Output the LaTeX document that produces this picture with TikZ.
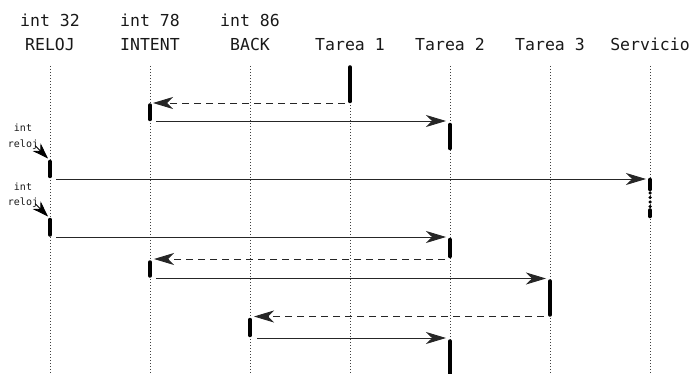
\documentclass[tikz,border=0pt]{standalone}
\usepackage{fontspec}
\setmonofont{DejaVu Sans Mono}
\usetikzlibrary{arrows.meta}
\begin{document}
\begin{tikzpicture}[x=1pt,y=-1pt,
  head/.style={font=\ttfamily\fontsize{16.5}{18}\selectfont, text=black!90, inner sep=0pt, anchor=base},
  note/.style={font=\ttfamily\fontsize{10}{11}\selectfont, text=black!90, inner sep=0pt, anchor=base},
  lifeline/.style={draw=black!75, line width=0.7pt, dash pattern=on 0.8pt off 2.2pt},
  actbar/.style={draw=black, line width=3.5pt, line cap=round},
  call/.style={draw=black!85, line width=0.9pt, -{Stealth[length=20pt,width=12pt,inset=6pt]}},
  reply/.style={call, dash pattern=on 7pt off 5pt},
  tick/.style={draw=black, line width=0.9pt, -{Stealth[length=16pt,width=11pt,inset=5pt]}}
]
\useasboundingbox (0,0) rectangle (693,374);

% --- participant headers ---
\node[head] (p1) at (50,27) {int 32};
\node[head] (p2) at (150,27) {int 78};
\node[head] (p3) at (250,27) {int 86};
\node[head] (h1) at (50,51) {RELOJ};
\node[head] (h2) at (150,51) {INTENT};
\node[head] (h3) at (250,51) {BACK};
\node[head] (h4) at (350,51) {Tarea 1};
\node[head] (h5) at (450,51) {Tarea 2};
\node[head] (h6) at (550,51) {Tarea 3};
\node[head] (h7) at (650,51) {Servicio};

% --- lifelines ---
\coordinate (top) at (0,66);
\coordinate (bot) at (0,374);
\foreach \h in {h1,h2,h3,h4,h5,h6,h7}
  \draw[lifeline] (\h |- top) -- (\h |- bot);

% --- activation bars ---
\coordinate (a1s) at (350,67);  \coordinate (a1e) at (350,101.5);
\coordinate (a2s) at (150,105); \coordinate (a2e) at (150,119.5);
\coordinate (a3s) at (450,124.5); \coordinate (a3e) at (450,148.5);
\coordinate (a4s) at (50,161.5); \coordinate (a4e) at (50,176.5);
\coordinate (a5s) at (650,179.5); \coordinate (a5e) at (650,216.5);
\coordinate (a6s) at (50,219.5); \coordinate (a6e) at (50,235);
\coordinate (a7s) at (450,239.5); \coordinate (a7e) at (450,256.5);
\coordinate (a8s) at (150,262); \coordinate (a8e) at (150,276);
\coordinate (a9s) at (550,281); \coordinate (a9e) at (550,315);
\coordinate (a10s) at (250,319.5); \coordinate (a10e) at (250,335.5);
\coordinate (a11s) at (450,341); \coordinate (a11e) at (450,378);

\draw[actbar] (a1s) -- (a1e);
\draw[actbar] (a2s) -- (a2e);
\draw[actbar] (a3s) -- (a3e);
\draw[actbar] (a4s) -- (a4e);
\draw[actbar, dash pattern=on 10pt off 3.5pt on 0pt off 4.5pt on 0pt off 4.5pt on 0pt off 4.5pt on 0pt off 3.5pt on 6.5pt off 20pt] (a5s) -- (a5e);
\draw[actbar] (a6s) -- (a6e);
\draw[actbar] (a7s) -- (a7e);
\draw[actbar] (a8s) -- (a8e);
\draw[actbar] (a9s) -- (a9e);
\draw[actbar] (a10s) -- (a10e);
\draw[actbar] (a11s) -- (a11e);

% --- messages ---
\coordinate (m1a) at (345,103);   \coordinate (m1b) at (153,103);
\coordinate (m2a) at (156,121);   \coordinate (m2b) at (446,121);
\coordinate (m3a) at (56,179);    \coordinate (m3b) at (646,179);
\coordinate (m4a) at (56,237);    \coordinate (m4b) at (446,237);
\coordinate (m5a) at (445,259);   \coordinate (m5b) at (154,259);
\coordinate (m6a) at (156,278.5); \coordinate (m6b) at (546,278.5);
\coordinate (m7a) at (544,316.5); \coordinate (m7b) at (254,316.5);
\coordinate (m8a) at (257,338);   \coordinate (m8b) at (446,338);

\draw[reply] (m1a) -- (m1b);
\draw[call]  (m2a) -- (m2b);
\draw[call]  (m3a) -- (m3b);
\draw[call]  (m4a) -- (m4b);
\draw[reply] (m5a) -- (m5b);
\draw[call]  (m6a) -- (m6b);
\draw[reply] (m7a) -- (m7b);
\draw[call]  (m8a) -- (m8b);

% --- clock interrupts ---
\node[note] (i1) at (23,132) {int};
\node[note] (r1) at (23,147.5) {reloj};
\node[note] (i2) at (23,190) {int};
\node[note] (r2) at (23,205.5) {reloj};
\coordinate (k1) at (48,158.5);
\coordinate (k2) at (48,216.5);
\draw[tick] (r1.east) ++(-3,1) -- (k1);
\draw[tick] (r2.east) ++(-3,1) -- (k2);
\end{tikzpicture}
\end{document}
